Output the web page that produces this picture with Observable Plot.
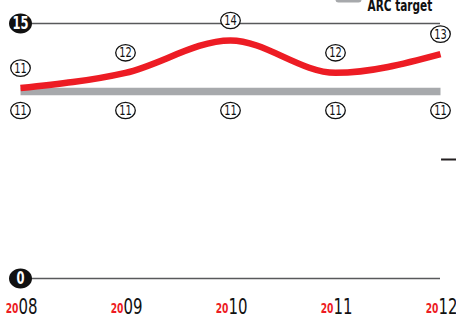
<!DOCTYPE html>
<html>
<head>
<meta charset="utf-8">
<script src="https://cdn.jsdelivr.net/npm/d3@7"></script>
<script src="https://cdn.jsdelivr.net/npm/@observablehq/plot@0.6"></script>
<style>
  html, body { margin: 0; padding: 0; background: #fff; }
  #chart svg { display: block; }
</style>
</head>
<body>
<div id="chart"></div>
<script>
const years = [2008, 2009, 2010, 2011, 2012];
const actual = [11.2, 12.1, 14, 12.1, 13.2];
const actualLabels = ["11", "12", "14", "12", "13"];
const target = [11, 11, 11, 11, 11];
const targetLabels = ["11", "11", "11", "11", "11"];
const gridValues = [15, 0];
const gridLabels = ["15", "0"];
const legendLabel = "ARC target";
const sideTick = [7];

const RED = "#ed1c24";
const GREY = "#a7a9ac";
const FONT = "'DejaVu Sans', sans-serif";
const NARROW = 0.68;

const actualData = years.map((y, i) => ({year: y, value: actual[i], label: actualLabels[i]}));
const targetData = years.map((y, i) => ({year: y, value: target[i], label: targetLabels[i]}));
const gridData = gridValues.map((v, i) => ({value: v, label: gridLabels[i]}));

function ellipse(rx, ry) {
  const k = 0.5523;
  return {draw(ctx) {
    ctx.moveTo(rx, 0);
    ctx.bezierCurveTo(rx, ry * k, rx * k, ry, 0, ry);
    ctx.bezierCurveTo(-rx * k, ry, -rx, ry * k, -rx, 0);
    ctx.bezierCurveTo(-rx, -ry * k, -rx * k, -ry, 0, -ry);
    ctx.bezierCurveTo(rx * k, -ry, rx, -ry * k, rx, 0);
    ctx.closePath();
  }};
}
function roundRect(w, h, r) {
  return {draw(ctx) {
    const x0 = -w / 2, y0 = -h / 2, x1 = w / 2, y1 = h / 2;
    ctx.moveTo(x0 + r, y0);
    ctx.lineTo(x1 - r, y0);
    ctx.arcTo(x1, y0, x1, y0 + r, r);
    ctx.lineTo(x1, y1 - r);
    ctx.arcTo(x1, y1, x1 - r, y1, r);
    ctx.lineTo(x0 + r, y1);
    ctx.arcTo(x0, y1, x0, y1 - r, r);
    ctx.lineTo(x0, y0 + r);
    ctx.arcTo(x0, y0, x0 + r, y0, r);
    ctx.closePath();
  }};
}

const chart = Plot.plot({
  width: 456,
  height: 323,
  marginLeft: 20,
  marginRight: 16,
  marginTop: 23,
  marginBottom: 45,
  x: {domain: [2008, 2012], axis: null},
  y: {domain: [0, 15], axis: null},
  style: {fontFamily: FONT, background: "#fff", overflow: "visible"},
  marks: [
    Plot.ruleY(gridData, {y: "value", x1: 2008, x2: 2012, stroke: "#58595b", strokeWidth: 1.5}),
    Plot.ruleY(sideTick, {x1: 2012.01, x2: 2012.16, stroke: "#231f20", strokeWidth: 2, clip: false}),
    Plot.line(targetData, {x: "year", y: "value", stroke: GREY, strokeWidth: 7.5, strokeLinecap: "butt"}),
    Plot.line(actualData, {x: "year", y: "value", stroke: RED, strokeWidth: 6.5, curve: "monotone-x", strokeLinecap: "butt"}),
    Plot.dot(gridData, {x: () => 2008, y: "value", symbol: ellipse(11.5, 10), fill: "#111", stroke: "none"}),
    Plot.text(gridData, {x: () => 2008, y: "value", text: "label", fill: "#fff", fontSize: 17, fontWeight: "bold", dy: 0.5}),
    Plot.dot(actualData, {x: "year", y: "value", dy: -20, symbol: ellipse(9.8, 8.2), fill: "#fff", stroke: "#111", strokeWidth: 1.3}),
    Plot.text(actualData, {x: "year", y: "value", dy: -20, text: "label", fill: "#111", fontSize: 14.5}),
    Plot.dot(targetData, {x: "year", y: "value", dy: 19, symbol: ellipse(9.8, 8.2), fill: "#fff", stroke: "#111", strokeWidth: 1.3}),
    Plot.text(targetData, {x: "year", y: "value", dy: 19, text: "label", fill: "#111", fontSize: 14.5}),
    Plot.text(years, {x: d => d, frameAnchor: "bottom", text: d => String(d).slice(0, 2), textAnchor: "end", dx: -2, dy: 34, fill: RED, fontSize: 13.5, fontWeight: "bold"}),
    Plot.text(years, {x: d => d, frameAnchor: "bottom", text: d => String(d).slice(2), textAnchor: "start", dx: -2, dy: 35, fill: "#111", fontSize: 22}),
    Plot.dot([legendLabel], {frameAnchor: "top-right", dx: -92, dy: -26, symbol: roundRect(26, 10, 3), fill: GREY, stroke: "none"}),
    Plot.text([legendLabel], {frameAnchor: "top-right", text: d => d, textAnchor: "start", dx: -73, dy: -24, fill: "#111", fontSize: 15.5, fontWeight: "bold"})
  ]
});
// narrow all text horizontally to mimic a condensed typeface
d3.select(chart).selectAll("text").each(function() {
  const t = this.getAttribute("transform") || "";
  this.setAttribute("transform", (t + ` scale(${NARROW},1)`).trim());
});
document.getElementById("chart").appendChild(chart);
</script>
</body>
</html>
